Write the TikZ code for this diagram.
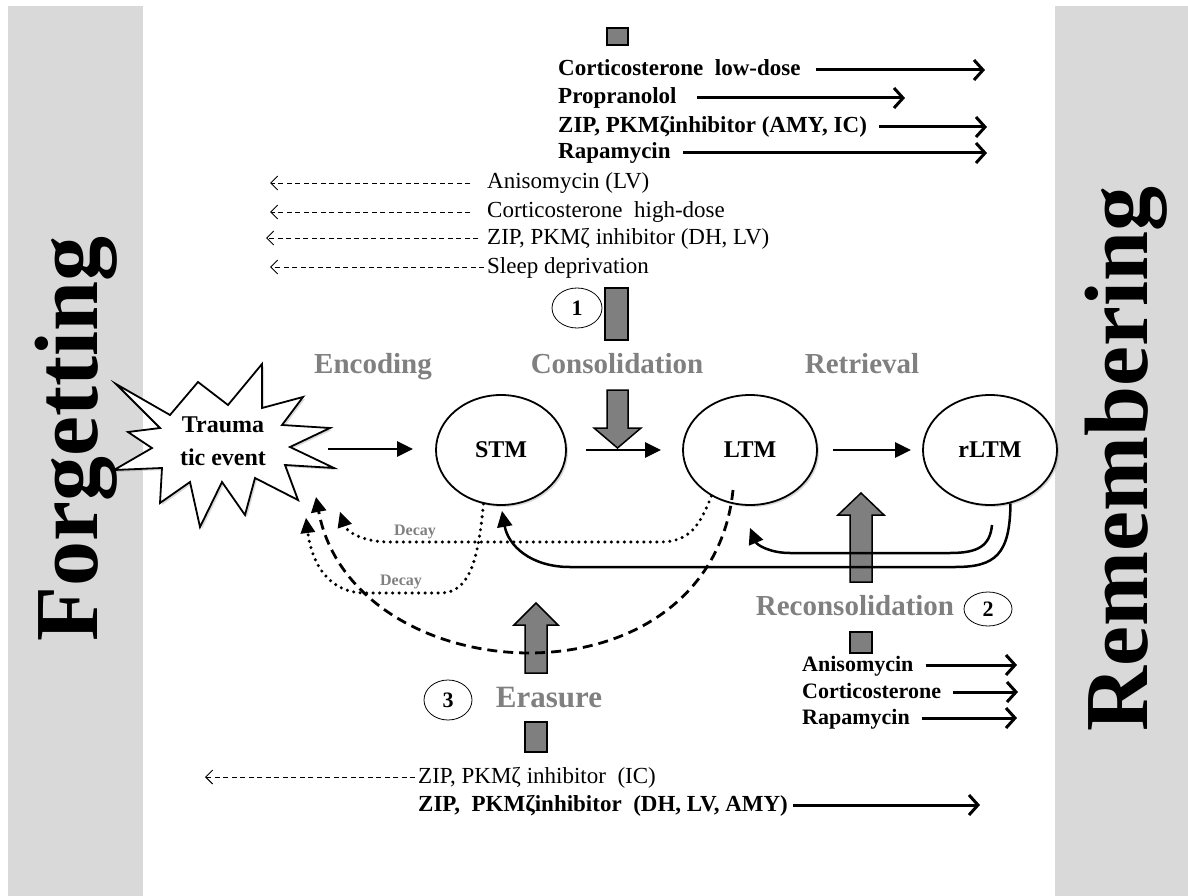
\documentclass[tikz,border=0pt]{standalone}
\usepackage{fontspec}
\setmainfont{Liberation Serif}
\usetikzlibrary{arrows.meta,shadows,calc,shapes.geometric}

\definecolor{panel}{RGB}{217,217,217}
\definecolor{labelgray}{RGB}{128,128,128}
\definecolor{blockgray}{RGB}{127,127,127}

\tikzset{
  memory/.style={ellipse, draw, line width=1.8pt, fill=white, minimum width=134pt,
    minimum height=110pt, inner sep=0pt, font=\fontsize{24}{28}\selectfont\bfseries,
    drop shadow={opacity=0.3, shadow xshift=2pt, shadow yshift=-2pt}},
  stage/.style={inner sep=0pt, text=labelgray, text height=20pt, text depth=6pt,
    font=\fontsize{29}{33}\selectfont\bfseries},
  decaylabel/.style={inner sep=0pt, text=labelgray, font=\fontsize{16}{18}\selectfont\bfseries},
  drugb/.style={anchor=west, inner sep=0pt, text height=15pt, text depth=3pt,
    font=\fontsize{23}{27}\selectfont\bfseries},
  drugs/.style={anchor=west, inner sep=0pt, text height=15pt, text depth=3pt,
    font=\fontsize{22}{26}\selectfont\bfseries},
  drugr/.style={anchor=west, inner sep=0pt, text height=15pt, text depth=3pt,
    font=\fontsize{23}{27}\selectfont},
  numcirc/.style={ellipse, draw, line width=0.8pt, fill=white, inner sep=0pt,
    font=\fontsize{22}{26}\selectfont\bfseries},
  side/.style={rotate=90, anchor=base, inner sep=0pt, font=\fontsize{90}{90}\selectfont\bfseries},
  enhance/.style={line width=3pt, -{Straight Barb[length=9pt,width=20pt]}},
  impair/.style={line width=0.9pt, dash pattern=on 5pt off 3.5pt, -{Straight Barb[length=7pt,width=14pt]}},
  flow/.style={line width=2.5pt, -{Triangle[length=16pt,width=15pt]}},
  decay/.style={line width=3.4pt, line cap=round, dash pattern=on 0pt off 6.5pt,
    -{Triangle[length=15pt,width=15pt,line width=0pt]}},
  erase/.style={line width=2.8pt, dash pattern=on 10pt off 6pt, -{Triangle[length=15pt,width=15pt]}},
  back/.style={line width=2.5pt, -{Triangle[length=16pt,width=15pt]}},
  block/.style={fill=blockgray, draw=black, line width=1.5pt},
}

\begin{document}
\begin{tikzpicture}[x=1pt,y=-1pt]
\useasboundingbox (0,0) rectangle (1188,896);

% side panels
\fill[panel] (8,6) rectangle (143,896);
\fill[panel] (1055,6) rectangle (1188,896);
\node[side] (forget) at (97,439) {Forgetting};
\node[side] (remember) at (1147,459) {Remembering};

% grey block arrows and bars
\draw[block] (607,28) rectangle (628,45);
\draw[block] (605,288) rectangle (628,340);
\draw[block] (607,390) -- (628,390) -- (628,428) -- (641,428) -- (617.5,448) -- (594,428) -- (607,428) -- cycle;
\draw[block] (850,582) -- (872,582) -- (872,515) -- (884,515) -- (861,493) -- (838,515) -- (850,515) -- cycle;
\draw[block] (850,632) rectangle (872,653);
\draw[block] (525,673) -- (547,673) -- (547,625) -- (558,625) -- (536,603) -- (514,625) -- (525,625) -- cycle;
\draw[block] (525,722) rectangle (547,752);

% traumatic event
\draw[fill=white, line width=1.8pt, line join=miter,
      drop shadow={opacity=0.3, shadow xshift=2pt, shadow yshift=-2pt}]
  (116,384) -- (170,415) -- (198,382) -- (228,405) -- (262,364) -- (262,408)
  -- (303,397) -- (282,425) -- (330,428) -- (290,447) -- (334,468) -- (285,465)
  -- (298,500) -- (255,478) -- (245,515) -- (222,482) -- (200,527) -- (190,482)
  -- (160,503) -- (162,468) -- (114,470) -- (152,448) -- (128,432) -- (160,428) -- cycle;
\node[inner sep=0pt, align=center, font=\fontsize{24}{33}\selectfont\bfseries] (trauma) at (223,441) {Trauma\\tic event};

% memory states
\node[memory, minimum width=130pt] (stm) at (501,450) {STM};
\node[memory] (ltm) at (750,450) {LTM};
\node[memory] (rltm) at (990,450) {rLTM};

% stage labels
\node[stage] (enc) at (373,366) {Encoding};
\node[stage] (cons) at (617,366) {Consolidation};
\node[stage] (retr) at (862,366) {Retrieval};
\node[stage] (recons) at (855,608) {Reconsolidation};
\node[stage, font=\fontsize{31}{35}\selectfont\bfseries] (eras) at (549,700) {Erasure};
\node[numcirc, minimum width=50pt, minimum height=40pt] (n1) at (577,308) {1};
\node[numcirc, minimum width=48pt, minimum height=34pt] (n2) at (988,609) {2};
\node[numcirc, minimum width=48pt, minimum height=40pt] (n3) at (448,700) {3};

% forward flow
\coordinate (tev) at (328,449);
\draw[flow] (tev) -- ([xshift=-22pt]stm.west |- tev);
\draw[flow] ([xshift=19pt]stm.east) -- ([xshift=-21pt]ltm.west);
\draw[flow] ([xshift=15pt]ltm.east) -- ([xshift=-11pt]rltm.west);

% retrieval feedback
\coordinate (rs) at (992,525);
\draw[back] (rltm.-69) .. controls (1010,555) and (995,567) .. (955,567) -- (570,567)
  .. controls (530,567) and (508,545) .. ($(stm.south)+(1,5)$);
\draw[back] (rs) .. controls (990,546) and (978,553) .. (950,553) -- (790,553)
  .. controls (770,553) and (757,545) .. ($(ltm.south)+(0,22)$);

% decay and erasure routes
\coordinate (ta) at (340,512);
\coordinate (tb) at (316,497);
\coordinate (tc) at (306,518);
\coordinate (ds) at (733,490);
\draw[decay] (ltm.230) .. controls (700,525) and (690,542) .. (660,542) -- (390,542)
  .. controls (360,542) and (346,530) .. (ta);
\draw[decay] (stm.252) .. controls (478,560) and (470,593) .. (440,593) -- (365,593)
  .. controls (330,593) and (312,565) .. (tc);
\draw[erase] (ds) .. controls (723,590) and (640,652) .. (530,653)
  .. controls (430,653) and (335,600) .. (tb);
\node[decaylabel] (d1) at (415,532) {Decay};
\node[decaylabel] (d2) at (401,582) {Decay};

% consolidation treatments
\node[drugb] (c1) at (558,70) {Corticosterone\ \ low-dose};
\node[drugb] (c2) at (558,98) {Propranolol};
\node[drugb] (c3) at (558,127) {ZIP, PKMζinhibitor (AMY, IC)};
\node[drugb] (c4) at (558,153) {Rapamycin};
\coordinate (c1e) at (985,70);
\coordinate (c2e) at (905,98);
\coordinate (c3e) at (987,127);
\coordinate (c4e) at (987,153);
\draw[enhance] ([xshift=15pt]c1.east) -- (c1e);
\draw[enhance] ([xshift=20pt]c2.east) -- (c2e);
\draw[enhance] ([xshift=12pt]c3.east) -- (c3e);
\draw[enhance] ([xshift=12pt]c4.east) -- (c4e);

\node[drugr] (i1) at (487,183) {Anisomycin (LV)};
\node[drugr] (i2) at (487,212) {Corticosterone\ \ high-dose};
\node[drugr] (i3) at (487,238) {ZIP, PKMζ inhibitor (DH, LV)};
\node[drugr] (i4) at (487,267) {Sleep deprivation};
\coordinate (i1e) at (270,183);
\coordinate (i2e) at (270,212);
\coordinate (i3e) at (266,238);
\coordinate (i4e) at (270,267);
\draw[impair] ([xshift=-17pt]i1.west) -- (i1e);
\draw[impair] ([xshift=-17pt]i2.west) -- (i2e);
\draw[impair] ([xshift=-9pt]i3.west) -- (i3e);
\draw[impair] ([xshift=-3pt]i4.west) -- (i4e);

% reconsolidation treatments
\node[drugs] (r1) at (802,665) {Anisomycin};
\node[drugs] (r2) at (802,692) {Corticosterone};
\node[drugs] (r3) at (802,718) {Rapamycin};
\coordinate (r1e) at (1017,665);
\coordinate (r2e) at (1018,692);
\coordinate (r3e) at (1017,718);
\draw[enhance] ([xshift=12pt]r1.east) -- (r1e);
\draw[enhance] ([xshift=12pt]r2.east) -- (r2e);
\draw[enhance] ([xshift=12pt]r3.east) -- (r3e);

% erasure treatments
\node[drugr] (e1) at (418,777) {ZIP, PKMζ inhibitor\ \ (IC)};
\node[drugb] (e2) at (418,805) {ZIP,\ \ PKMζinhibitor\ \ (DH, LV, AMY)};
\coordinate (e1e) at (205,777);
\coordinate (e2e) at (980,805);
\draw[impair] ([xshift=-3pt]e1.west) -- (e1e);
\draw[enhance] ([xshift=5pt]e2.east) -- (e2e);
\end{tikzpicture}
\end{document}
